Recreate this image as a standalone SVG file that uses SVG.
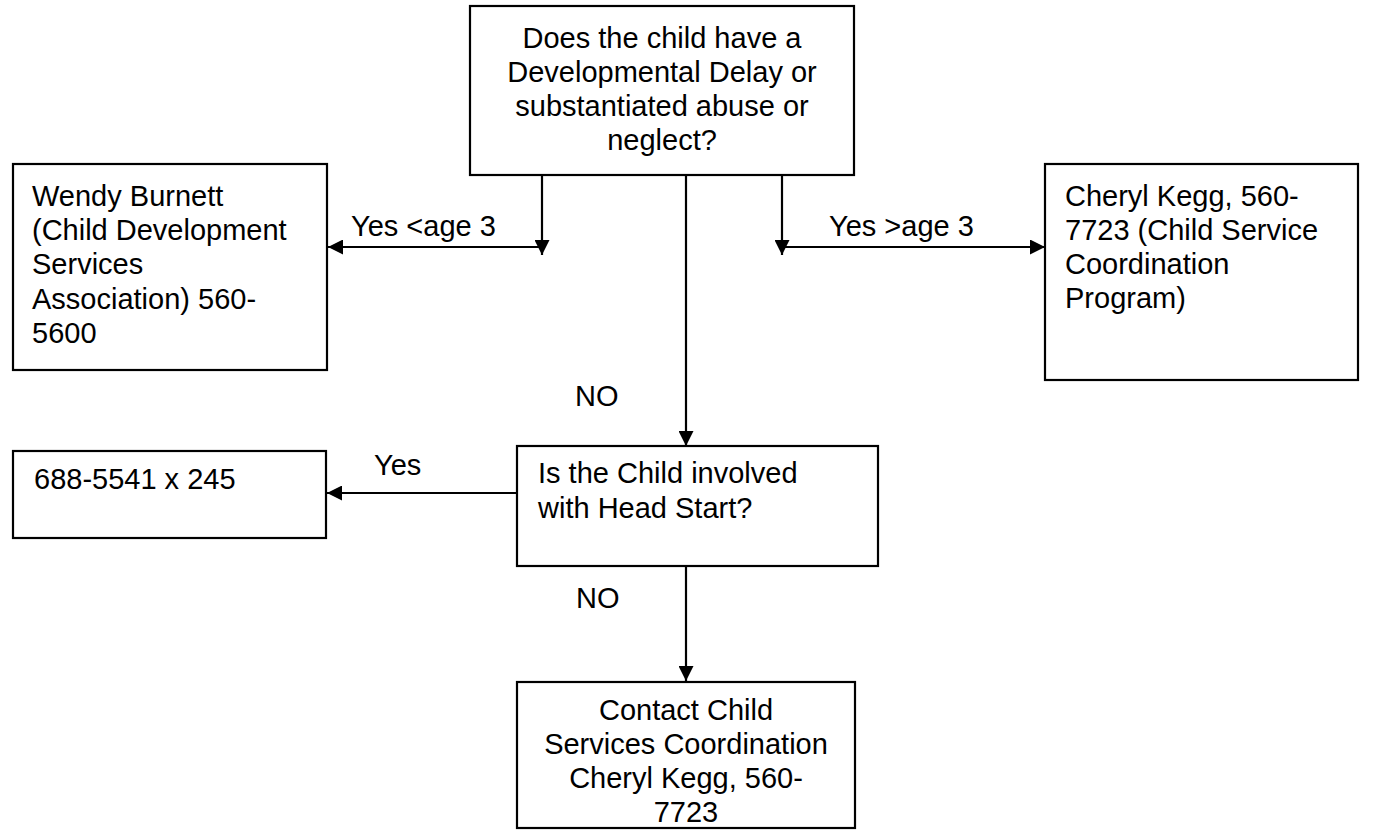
<svg xmlns="http://www.w3.org/2000/svg" width="1389" height="836" viewBox="0 0 1389 836">
<defs>
<style>
.box{fill:#fff;stroke:#000;stroke-width:2.2}
.t{font-family:"Liberation Sans",Arial,sans-serif;font-size:29px;fill:#000}
.c{text-anchor:middle}
.ln{stroke:#000;stroke-width:2.2;fill:none}
</style>
<marker id="ah" markerUnits="userSpaceOnUse" markerWidth="15" markerHeight="15" viewBox="0 0 15 15" refX="15" refY="7.5" orient="auto">
<path d="M0,0 L15,7.5 L0,15 z" fill="#000"/>
</marker>
</defs>
<rect width="1389" height="836" fill="#fff"/>
<g id="connectors">
<line class="ln" x1="542" y1="175" x2="542" y2="255" marker-end="url(#ah)"/>
<line class="ln" x1="542" y1="247" x2="328" y2="247" marker-end="url(#ah)"/>
<line class="ln" x1="782" y1="175" x2="782" y2="255" marker-end="url(#ah)"/>
<line class="ln" x1="782" y1="247" x2="1045" y2="247" marker-end="url(#ah)"/>
<line class="ln" x1="686" y1="175" x2="686" y2="446" marker-end="url(#ah)"/>
<line class="ln" x1="517" y1="493" x2="327" y2="493" marker-end="url(#ah)"/>
<line class="ln" x1="686" y1="566" x2="686" y2="681" marker-end="url(#ah)"/>
<text class="t" x="351" y="236">Yes &lt;age 3</text>
<text class="t" x="829" y="236">Yes &gt;age 3</text>
<text class="t" x="575" y="406">NO</text>
<text class="t" x="374" y="475">Yes</text>
<text class="t" x="576" y="608">NO</text>
</g>
<g id="q1">
<rect class="box" x="470" y="6" width="384" height="169"/>
<text class="t c" x="662" y="48">Does the child have a</text>
<text class="t c" x="662" y="82">Developmental Delay or</text>
<text class="t c" x="662" y="116">substantiated abuse or</text>
<text class="t c" x="662" y="150">neglect?</text>
</g>
<g id="wendy">
<rect class="box" x="13" y="164" width="314" height="206"/>
<text class="t" x="32" y="206">Wendy Burnett</text>
<text class="t" x="32" y="240">(Child Development</text>
<text class="t" x="32" y="274">Services</text>
<text class="t" x="32" y="309">Association) 560-</text>
<text class="t" x="32" y="343">5600</text>
</g>
<g id="cheryl">
<rect class="box" x="1045" y="164" width="313" height="216"/>
<text class="t" x="1065" y="206">Cheryl Kegg, 560-</text>
<text class="t" x="1065" y="240">7723 (Child Service</text>
<text class="t" x="1065" y="274">Coordination</text>
<text class="t" x="1065" y="308">Program)</text>
</g>
<g id="headstart-phone">
<rect class="box" x="13" y="451" width="313" height="87"/>
<text class="t" x="34" y="489">688-5541 x 245</text>
</g>
<g id="q2">
<rect class="box" x="517" y="446" width="361" height="120"/>
<text class="t" x="538" y="483">Is the Child involved</text>
<text class="t" x="538" y="518">with Head Start?</text>
</g>
<g id="contact">
<rect class="box" x="517" y="682" width="338" height="146"/>
<text class="t c" x="686" y="720">Contact Child</text>
<text class="t c" x="686" y="754">Services Coordination</text>
<text class="t c" x="686" y="788">Cheryl Kegg, 560-</text>
<text class="t c" x="686" y="822">7723</text>
</g>
</svg>
